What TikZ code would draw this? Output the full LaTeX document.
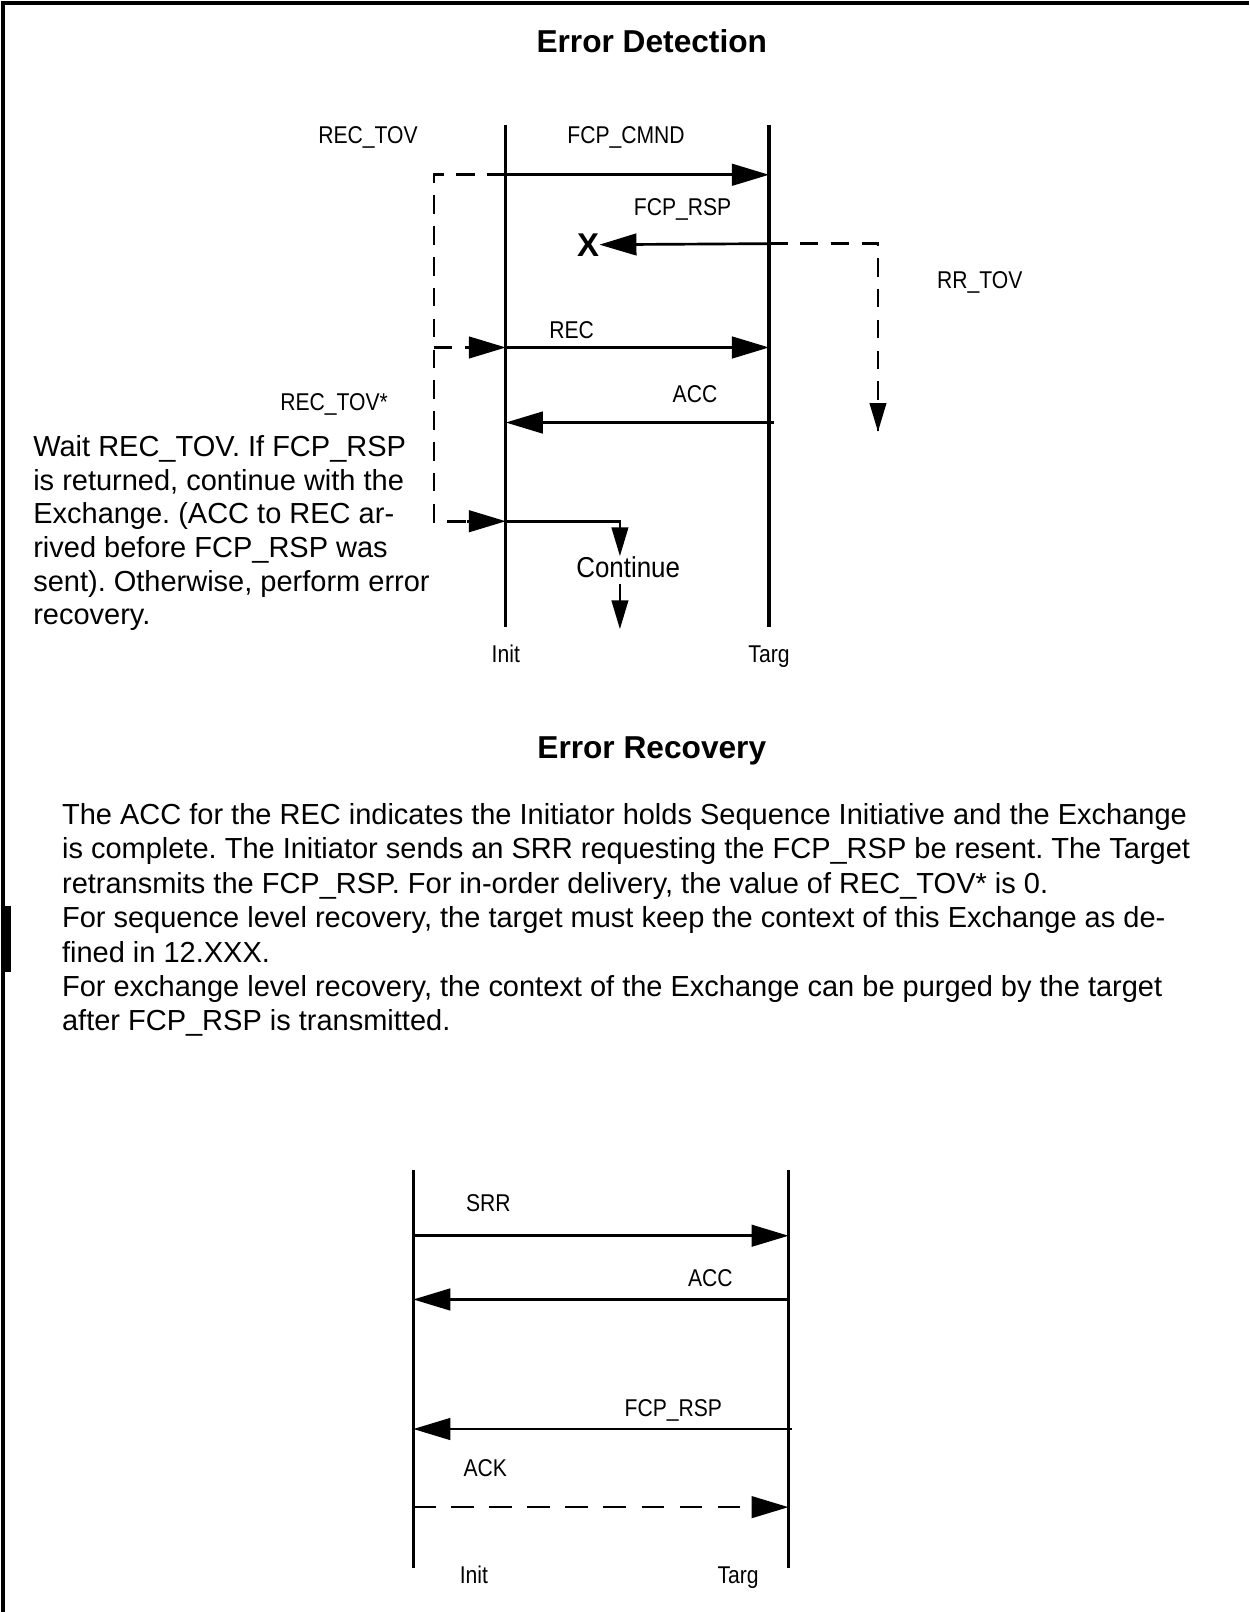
\documentclass[tikz,border=0pt]{standalone}
\usepackage{fontspec}
\setmainfont{Liberation Sans}
\newfontfamily\narrowlab[FakeStretch=0.87]{Liberation Sans}
\newfontfamily\contlab[FakeStretch=0.9]{Liberation Sans}
\usetikzlibrary{arrows.meta,calc}
\frenchspacing
\begin{document}
\begin{tikzpicture}[x=0.5pt,y=-0.5pt,
  lab/.style={font=\narrowlab\fontsize{11.8}{14}\selectfont, inner sep=0pt, text height=8.45pt, text depth=0pt},
  ttl/.style={font=\bfseries\fontsize{15.4}{18}\selectfont, inner sep=0pt, text height=11pt, text depth=0pt},
  body/.style={inner sep=0pt, align=left, anchor=north west},
  life/.style={line width=1.5pt},
  msg/.style={line width=1.3pt, -{Triangle[length=18pt,width=10.5pt]}},
  smsg/.style={line width=1.3pt, -{Triangle[length=14pt,width=8pt]}},
  tmr/.style={line width=1.3pt, dash pattern=on 9pt off 6pt},
  frame/.style={line width=1.6pt}
]
\useasboundingbox (0,0) rectangle (1215,1568);
% frame and change bar
\draw[frame] (3,1568) -- (3,3) -- (1215,3);
\fill (5,881) rectangle (11,945);

% ---------- Error Detection ----------
\node[ttl] (t1) at (634,40) {Error Detection};

\coordinate (iT) at (492,122); \coordinate (iB) at (492,610);
\coordinate (tT) at (748,122); \coordinate (tB) at (748,610);
\draw[life] (iT) -- (iB);
\draw[life] (tT) -- (tB);

\node[lab] (lrectov) at (358,131) {REC\_TOV};
\node[lab] (lcmnd) at (609,131) {FCP\_CMND};
\node[lab] (lrsp) at (664,201) {FCP\_RSP};
\node[lab] (lrrtov) at (953,272) {RR\_TOV};
\node[lab] (lrec) at (556,321) {REC};
\node[lab] (lacc) at (676,383) {ACC};
\node[lab] (lrectovs) at (325,391) {REC\_TOV*};
\node[lab] (linit) at (492,636) {Init};
\node[lab] (ltarg) at (748,636) {Targ};
\node[font=\bfseries\fontsize{16}{18}\selectfont, inner sep=0pt, text height=11.5pt, text depth=0pt] (X) at (572,238) {X};

% FCP_CMND
\coordinate (iCmnd) at (492,170); \coordinate (tCmnd) at (748,170);
\draw[msg] (iCmnd) -- (tCmnd);
% FCP_RSP lost
\coordinate (tRsp) at (748,237);
\draw[msg] (tRsp) -- (X.east);
% RR_TOV timer
\coordinate (rrC) at (854,237); \coordinate (rrE) at (854,420);
\draw[tmr] (tRsp) -- (rrC) -- (rrE);
\draw[smsg] ($(rrE)+(0,-1)$) -- (rrE);
% REC_TOV timer
\coordinate (dTop) at (422,170); \coordinate (dMid) at (422,338); \coordinate (dBot) at (422,507);
\coordinate (iRec) at (492,338); \coordinate (tRec) at (748,338);
\coordinate (iCont) at (492,507);
\draw[tmr] (iCmnd) -- (dTop) -- (dBot) -- ($(iCont)+(-30,0)$);
\draw[tmr] (dMid) -- ($(iRec)+(-30,0)$);
\draw[msg] ($(iRec)+(-38,0)$) -- (iRec);
\draw[msg] ($(iCont)+(-38,0)$) -- (iCont);
% REC
\draw[msg] (iRec) -- (tRec);
% ACC
\coordinate (tAcc) at (753,411); \coordinate (iAcc) at (492,411);
\draw[msg] (tAcc) -- (iAcc);
% Continue
\coordinate (cC) at (603,507); \coordinate (cE) at (603,541);
\draw[smsg] (iCont) -- (cC) -- (cE);
\node[inner sep=0pt, font=\contlab\fontsize{14}{16}\selectfont, text height=10pt, text depth=0pt] (lcont) at (611,552) {Continue};
\coordinate (cS2) at (603,568); \coordinate (cE2) at (603,612);
\draw[smsg] (cS2) -- (cE2);

\node[body, font=\fontsize{14.1}{16.4}\selectfont] (wait) at (32,423) {Wait REC\_TOV. If FCP\_RSP\\is returned, continue with the\\Exchange. (ACC to REC ar-\\rived before FCP\_RSP was\\sent). Otherwise, perform error\\recovery.};

% ---------- Error Recovery ----------
\node[ttl] (t2) at (634,727) {Error Recovery};
\node[body, font=\fontsize{14.1}{16.75}\selectfont] (para) at (60,781) {The ACC for the REC indicates the Initiator holds Sequence Initiative and the Exchange\\is complete. The Initiator sends an SRR requesting the FCP\_RSP be resent. The Target\\retransmits the FCP\_RSP. For in-order delivery, the value of REC\_TOV* is 0.\\For sequence level recovery, the target must keep the context of this Exchange as de-\\fined in 12.XXX.\\For exchange level recovery, the context of the Exchange can be purged by the target\\after FCP\_RSP is transmitted.};

\coordinate (i2T) at (402,1138); \coordinate (i2B) at (402,1525);
\coordinate (t2T) at (767,1138); \coordinate (t2B) at (767,1525);
\draw[life] (i2T) -- (i2B);
\draw[life] (t2T) -- (t2B);
\node[lab] (lsrr) at (475,1170) {SRR};
\node[lab] (lacc2) at (691,1243) {ACC};
\node[lab] (lrsp2) at (655,1369) {FCP\_RSP};
\node[lab] (lack) at (472,1428) {ACK};
\node[lab] (linit2) at (461,1532) {Init};
\node[lab] (ltarg2) at (718,1532) {Targ};
\coordinate (i2Srr) at (402,1202); \coordinate (t2Srr) at (767,1202);
\coordinate (i2Acc) at (402,1264); \coordinate (t2Acc) at (767,1264);
\coordinate (i2Rsp) at (402,1390); \coordinate (t2Rsp) at (770,1390);
\coordinate (i2Ack) at (402,1466); \coordinate (t2Ack) at (767,1466);
\draw[msg] (i2Srr) -- (t2Srr);
\draw[msg] (t2Acc) -- (i2Acc);
\draw[msg] (t2Rsp) -- (i2Rsp);
\draw[msg, dash pattern=on 11pt off 7.5pt] (i2Ack) -- (t2Ack);
\end{tikzpicture}
\end{document}
